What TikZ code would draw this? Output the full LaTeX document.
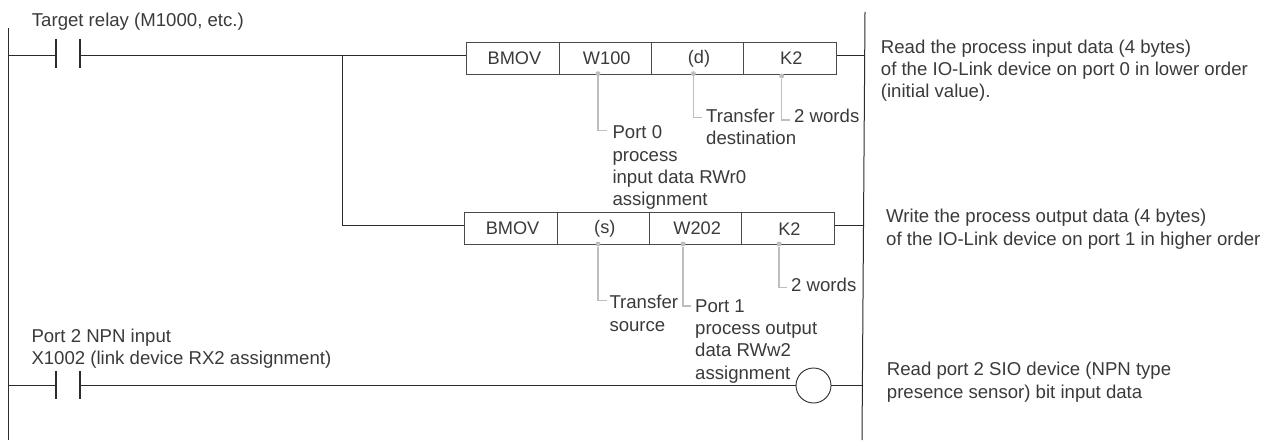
\documentclass[tikz,border=0pt]{standalone}
\usepackage{fontspec}
\setmainfont{Liberation Sans}
\definecolor{ink}{HTML}{3A3A3C}
\definecolor{rail}{HTML}{2B2B2D}
\definecolor{boxc}{HTML}{4A4A4C}
\definecolor{lead}{HTML}{BCBEC0}
\tikzset{x=1pt,y=-1pt,
 rung/.style={draw=rail,line width=1pt},
 contact/.style={draw=rail,line width=1.3pt},
 cell/.style={draw=boxc,line width=1pt,minimum height=31.7pt,minimum width=92.3pt,inner sep=0pt,anchor=north west,font=\fontsize{18.2}{20}\selectfont,text=ink},
 lbl/.style={anchor=base west,inner sep=0pt,align=left,font=\fontsize{18.6}{22.2}\selectfont,text=ink},
 leadl/.style={draw=lead,line width=1.1pt},
 dotm/.style={circle,fill=lead,inner sep=0pt,minimum size=5pt},
 coil/.style={circle,draw=rail,line width=0.9pt,minimum size=35pt,inner sep=0pt}}
\begin{document}
\begin{tikzpicture}
\useasboundingbox (0,0) rectangle (1271,441);
% rails
\coordinate (lt) at (8,28); \coordinate (lb) at (8,440);
\coordinate (rt) at (865,12); \coordinate (rb) at (862,440);
\draw[rung] (lt)--(lb); \draw[rung] (rt)--(rb);
% instruction boxes
\foreach \n/\x/\y/\t in {a1/466.3/42/BMOV,a2/558.6/42/W100,a3/650.9/42/(d),a4/743.2/42/K2,b1/464.4/212.3/BMOV,b2/556.7/212.3/(s),b3/649/212.3/W202,b4/741.3/212.3/K2}
 \node[cell] (\n) at (\x,\y) {\kern3pt\t};
% rung 1
\coordinate (r1l) at (8,55.5); \coordinate (c1a) at (56,55.5); \coordinate (c1b) at (80,55.5);
\coordinate (j) at (342.3,55.5); \coordinate (r1r) at (865,55.5);
\draw[rung] (r1l)--(c1a); \draw[rung] (c1b)--(j)--(a1.west |- j);
\draw[contact] ([yshift=16.5]c1a)--([yshift=-12.5]c1a);
\draw[contact] ([yshift=16.5]c1b)--([yshift=-12.5]c1b);
\draw[rung] (a4.east |- r1r)--(r1r);
% branch
\coordinate (r2r) at (863.5,225.5);
\draw[rung] (j)|-(b1.west |- r2r);
\draw[rung] (b4.east |- r2r)--(r2r);
% rung 3
\coordinate (r3l) at (8,385.5); \coordinate (c3a) at (56,385.5); \coordinate (c3b) at (80,385.5); \coordinate (r3r) at (862,385.5);
\node[coil] (k) at (813.5,385.5) {};
\draw[rung] (r3l)--(c3a); \draw[rung] (c3b)--(k.west); \draw[rung] (k.east)--(r3r);
\draw[contact] ([yshift=14.5]c3a)--([yshift=-13.5]c3a);
\draw[contact] ([yshift=14.5]c3b)--([yshift=-13.5]c3b);
% leaders
\foreach \n/\x/\y in {da2/598/73.7,da3/693.3/73.7,da4/781.7/76,db2/598/244,db3/683/244,db4/779/244}
 \node[dotm] (\n) at (\x,\y) {};
\foreach \n/\x/\y in {ea2/606.7/130.7,ea3/701.7/117.3,ea4/790/120,eb2/606.7/300.7,eb3/690.7/306,eb4/787/287.7}
 \coordinate (\n) at (\x,\y);
\draw[leadl] (da2)|-(ea2); \draw[leadl] (da3)|-(ea3); \draw[leadl] (da4)|-(ea4);
\draw[leadl] (db2)|-(eb2); \draw[leadl] (db3)|-(eb3); \draw[leadl] (db4)|-(eb4);
% labels (anchored on the baseline of their last line)
\node[lbl] (t1) at (612.3,205.5) {Port 0\\process\\input data RWr0\\assignment};
\node[lbl] (t2) at (706,145) {Transfer\\destination};
\node[lbl] (t3) at (794,122.7) {2 words};
\node[lbl] (t4) at (609.3,331) {Transfer\\source};
\node[lbl] (t5) at (695,379) {Port 1\\process output\\data RWw2\\assignment};
\node[lbl] (t6) at (791,291) {2 words};
\node[lbl] (t7) at (31.7,26.7) {Target relay (M1000, etc.)};
\node[lbl] (t8) at (31.3,364.3) {Port 2 NPN input\\X1002 (link device RX2 assignment)};
\node[lbl] (t9) at (880.7,97.5) {Read the process input data (4 bytes)\\of the IO-Link device on port 0 in lower order\\(initial value).};
\node[lbl] (t10) at (886,245) {Write the process output data (4 bytes)\\of the IO-Link device on port 1 in higher order};
\node[lbl] (t11) at (886.7,398) {Read port 2 SIO device (NPN type\\presence sensor) bit input data};
\end{tikzpicture}
\end{document}
